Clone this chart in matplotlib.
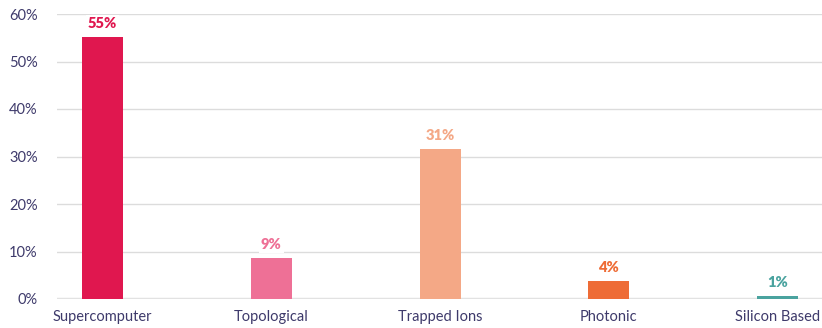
import matplotlib
matplotlib.use('Agg')
import matplotlib.pyplot as plt

categories = ['Supercomputer', 'Topological', 'Trapped Ions', 'Photonic', 'Silicon Based']
values = [55.2, 8.7, 31.6, 3.8, 0.7]
labels = ['55%', '9%', '31%', '4%', '1%']
colors = ['#E0174F', '#EE7096', '#F4A886', '#EE6C36', '#4AA39F']

plt.rcParams['font.family'] = ['Lato', 'DejaVu Sans']
text_color = '#3E3A6B'

fig = plt.figure(figsize=(8.22, 3.28), dpi=100)
ax = fig.add_axes([57 / 822, 29 / 328, 1 - 57 / 822, 285 / 328])

x = list(range(len(categories)))
ax.bar(x, values, width=0.243, color=colors, zorder=3)

for xi, v, lab, c in zip(x, values, labels, colors):
    ax.annotate(lab, (xi, v), xytext=(0, 5), textcoords='offset points',
                ha='center', va='bottom', fontsize=10.5, fontweight='heavy', color=c,
                zorder=4, bbox=dict(boxstyle='square,pad=0.15', fc='white', ec='none'))

ax.set_xlim(-0.27, 4.264)
ax.set_ylim(0, 60)
ax.set_yticks(range(0, 61, 10))
ax.set_yticklabels(['{}%'.format(t) for t in range(0, 61, 10)])
ax.set_xticks(x)
ax.set_xticklabels(categories)

ax.grid(axis='y', color='#DCDCDC', linewidth=1, zorder=0)
ax.axhline(0, color='#E2E2E2', linewidth=2.5, zorder=2)
for s in ax.spines.values():
    s.set_visible(False)
ax.tick_params(axis='both', length=0, labelsize=10.5, colors=text_color)
ax.tick_params(axis='y', pad=14)
ax.tick_params(axis='x', pad=8)

fig.savefig('out.png', dpi=100)
